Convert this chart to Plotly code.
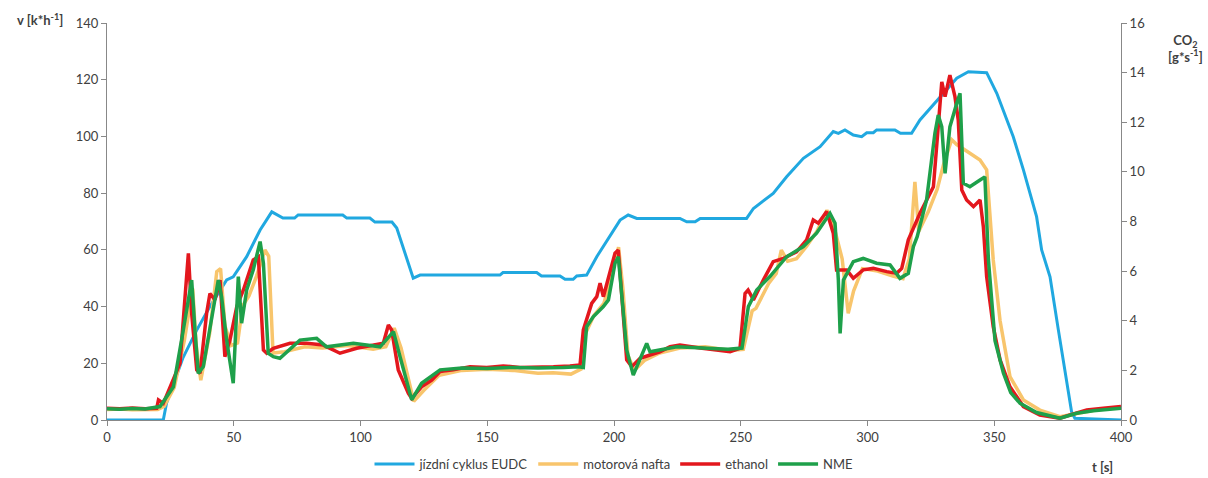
import plotly.graph_objects as go

# EUDC driving cycle: vehicle speed [km/h] over time [s]
t_eudc = [0, 22.2, 23.5, 30, 35.4, 40.6, 47.2, 49.8, 55.1, 60.4, 65, 69.4, 74, 75.4, 93, 94.6,
          103.7, 105.7, 112.4, 114.3, 120.8, 123.5, 155, 156.2, 169.5, 171.4, 178.7, 180.7,
          183.9, 185.3, 189.2, 193.2, 202.4, 205.6, 209, 226, 228.7, 232, 234, 252.3, 255,
          262.8, 268.1, 274.7, 281.3, 286.5, 288.5, 291.1, 294.4, 297.7, 299.7, 302.3, 303.6,
          310.8, 313, 317.4, 320.7, 324.7, 328.6, 335.2, 339.8, 347, 351, 357.5, 361.5, 366.7,
          368.7, 372, 375.3, 378.6, 380.5, 381.8, 400]
v_eudc = [0, 0, 6, 22, 31.7, 40, 49.4, 50.5, 57.6, 67, 73.4, 71.2, 71.2, 72.3, 72.3, 71.2,
          71.2, 69.8, 69.8, 67.7, 50, 51.1, 51.1, 52, 52, 50.8, 50.8, 49.6,
          49.6, 50.8, 51.1, 57.6, 70.5, 72.3, 71.1, 71.1, 69.9, 69.9, 71.1, 71.1, 74.6,
          79.9, 85.8, 92.3, 96.4, 101.7, 101.1, 102.3, 100.5, 99.9, 101.3, 101.3, 102.3,
          102.3, 101.1, 101.1, 105.8, 109.9, 114, 120.5, 122.8, 122.5, 115.2, 99.9, 88.2, 71.7,
          60, 50.5, 31.7, 12.9, 2.9, 0.6, 0]

# CO2 mass flow [g/s] - diesel
t_nafta = [0, 5, 10, 15, 20, 22.5, 26.5, 30.5, 33.8, 35.2, 37, 40.5, 43.3, 44.8, 46.5, 49,
           51.5, 53.5, 56, 59, 62.3, 63.8, 65.5, 70, 78, 85, 95, 105, 110, 113.3, 116, 121,
           125, 131, 140, 150, 160, 170, 176, 183, 187, 188.8, 192, 196, 199, 201.8, 203.5,
           205.5, 208, 212, 218, 226, 236, 246, 251, 254.5, 256, 261, 264, 266, 268.5, 272,
           276, 280, 284, 286.5, 287.8, 290, 292.4, 294.5, 298, 304, 310, 314, 316.5, 318.7,
           320.2, 324, 327.5, 330, 333.2, 335.2, 340.4, 344.4, 347, 349.6, 352.3, 356.2,
           361.5, 368, 375.9, 382, 390, 400]
co2_nafta = [0.42, 0.44, 0.41, 0.43, 0.42, 0.55, 1.3, 3.2, 5.3, 3.0, 1.6, 3.5, 5.98, 6.1, 3.8, 3.0,
             3.1, 4.6, 5.0, 5.8, 6.85, 6.6, 2.7, 2.75, 2.95, 2.9, 3.0, 2.85, 2.95, 3.7, 2.9, 0.75,
             1.2, 1.8, 2.0, 2.05, 2.0, 1.88, 1.9, 1.85, 2.05, 3.5, 4.2, 4.7, 5.8, 6.97, 5.3,
             2.6, 2.0, 2.4, 2.7, 2.9, 2.95, 2.8, 2.85, 4.4, 4.5, 5.5, 5.9, 6.85, 6.4, 6.5,
             7.0, 7.6, 8.45, 7.9, 7.39, 6.5, 4.3, 5.2, 6.1, 6.0, 5.8, 5.7, 6.5, 9.6,
             7.6, 8.4, 9.3, 10.3, 11.3, 11.1, 10.75, 10.48, 10.08, 6.45, 4.0, 1.75,
             0.81, 0.4, 0.13, 0.25, 0.4, 0.5]

# CO2 mass flow [g/s] - ethanol
t_ethanol = [0, 5, 10, 15, 19.6, 20.3, 22.2, 26.2, 28.8, 30.8, 32.1, 33.4, 35.4, 36.7, 39.3,
             40.6, 42.6, 44.6, 46.5, 48.5, 51.2, 53.8, 57.7, 59.7, 61.7, 63, 65.6, 72.2, 78.8,
             85.3, 91.9, 98.5, 105, 109, 111, 112.3, 114.9, 118.9, 120.2, 124.1, 128.1, 131.4,
             136.6, 143.2, 149.8, 156.3, 162.9, 169.5, 176.1, 182.6, 186.6, 187.9, 191.2,
             193.2, 194.5, 195.8, 198.4, 200.4, 201.7, 203, 205, 207, 210.3, 214.2, 218.1,
             222.1, 226, 234, 241.8, 245.8, 249.7, 251.7, 252.9, 255, 258.9, 262.8, 266.8,
             272, 276, 278.6, 280.6, 283.9, 286.5, 287.8, 291.8, 294.4, 298.3, 302.3, 307.6,
             311.5, 313.5, 316.1, 320.7, 324, 326, 327.9, 329.3, 330.6, 332.5, 334.5, 335.8,
             337.2, 339.1, 341.8, 344.4, 345.7, 347, 349.6, 352.3, 356.2, 361.5, 368, 375.9,
             379.9, 386.5, 393, 400]
co2_ethanol = [0.47, 0.45, 0.48, 0.45, 0.47, 0.81, 0.67, 1.61, 2.28, 4.97, 6.72, 4.3, 2.02, 1.88, 4.3,
               5.1, 4.84, 5.64, 2.55, 3.22, 4.57, 5.24, 6.45, 6.58, 2.82, 2.69, 2.89, 3.09, 3.09,
               3.02, 2.69, 2.89, 3.02, 3.09, 3.83, 3.63, 2.02, 1.07, 0.87, 1.34, 1.61, 1.95,
               2.02, 2.15, 2.12, 2.18, 2.12, 2.12, 2.15, 2.18, 2.22, 3.63, 4.7,
               4.97, 5.51, 4.97, 5.91, 6.72, 6.85, 4.97, 2.42, 2.15, 2.49, 2.62, 2.75,
               2.95, 3.02, 2.9, 2.82, 2.75, 2.89, 5.1, 5.24, 4.84, 5.64, 6.38, 6.51,
               6.78, 7.26, 8.06, 7.93, 8.4, 7.53, 6.05, 6.05, 5.71, 6.05, 6.11, 5.98,
               5.91, 6.11, 7.26, 8.33, 9.0, 9.4, 11.82, 13.63, 13.03, 13.9, 13.03, 12.09,
               9.27, 8.87, 8.6, 8.87, 7.79, 5.78, 3.76, 2.42, 1.34, 0.54, 0.2, 0.07,
               0.2, 0.4, 0.47, 0.54]

# CO2 mass flow [g/s] - NME (rapeseed methyl ester)
t_nme = [0, 5, 10, 15, 20.9, 26.2, 30.1, 33.4, 34.7, 36, 38, 40.6, 43.9, 45.2, 47.2, 49.8,
         51.8, 53.1, 55.1, 57.7, 60.4, 61.7, 63.6, 65.6, 68.2, 76.1, 82.7, 86.6, 97.2, 107.7,
         113, 115.6, 120.2, 124.1, 131.4, 140, 150, 160, 170, 180, 186, 187.9, 189.2, 191.8,
         195.8, 197.8, 200.4, 201.7, 203, 205, 207.6, 210.3, 212.9, 214.2, 218.1, 224.8, 235,
         245, 250.5, 253, 256.3, 261.5, 268.1, 274.7, 279.9, 285.2, 287.2, 288.5, 289.2,
         290.5, 294.4, 298.3, 303.6, 308.9, 312.8, 316.1, 318.1, 319.6, 323.3, 326.6, 327.9,
         329.3, 330.6, 332.5, 335.2, 336.5, 337.8, 340.4, 344.4, 346.3, 347.7, 350.3, 353.6,
         356.5, 360.2, 366.7, 375.9, 382.5, 389.1, 400]
co2_nme = [0.45, 0.43, 0.46, 0.44, 0.54, 1.34, 3.63, 5.64, 3.63, 1.88, 2.15, 3.63, 5.64, 4.97, 3.22, 1.48,
           5.78, 3.9, 5.24, 6.05, 7.19, 6.32, 2.69, 2.55, 2.49, 3.22, 3.29, 2.95, 3.09, 2.95,
           3.56, 2.55, 0.81, 1.48, 2.02, 2.1, 2.08, 2.12, 2.1, 2.12, 2.15, 2.12, 3.76, 4.16,
           4.57, 4.84, 6.32, 6.58, 4.97, 2.82, 1.81, 2.42, 3.09, 2.75, 2.82, 2.95, 2.9,
           2.85, 2.9, 4.57, 5.24, 5.78, 6.58, 6.99, 7.53, 8.33, 7.93, 5.64, 3.49,
           5.64, 6.38, 6.51, 6.32, 6.25, 5.71, 5.91, 6.99, 7.39, 8.87, 11.56, 12.29,
           11.82, 9.94, 11.82, 12.76, 13.17, 9.54, 9.4, 9.67, 9.8, 6.45, 3.2, 1.9,
           1.1, 0.67, 0.3, 0.07, 0.27, 0.37, 0.47]

x_ticks = [0, 50, 100, 150, 200, 250, 300, 350, 400]
v_ticks = [0, 20, 40, 60, 80, 100, 120, 140]
co2_ticks = [0, 2, 4, 6, 8, 10, 12, 14, 16]

FONT = "Lato, 'Open Sans', sans-serif"
TEXT = "#404040"
AXIS = "#888888"
FS = 13

fig = go.Figure()
fig.add_trace(go.Scatter(x=t_eudc, y=v_eudc, mode="lines", name="jízdní cyklus EUDC",
                         line=dict(color="#20A8E0", width=3)))
fig.add_trace(go.Scatter(x=t_nafta, y=co2_nafta, mode="lines", name="motorová nafta", yaxis="y2",
                         line=dict(color="#F8C56C", width=3.5)))
fig.add_trace(go.Scatter(x=t_ethanol, y=co2_ethanol, mode="lines", name="ethanol", yaxis="y2",
                         line=dict(color="#E3171D", width=3.5)))
fig.add_trace(go.Scatter(x=t_nme, y=co2_nme, mode="lines", name="NME", yaxis="y2",
                         line=dict(color="#1EA04A", width=3.5)))

axis_common = dict(showgrid=False, zeroline=False, showline=True, linecolor=AXIS, linewidth=1,
                   ticks="outside", ticklen=5, tickcolor=AXIS, automargin=False,
                   tickfont=dict(family=FONT, size=FS, color=TEXT))

fig.update_layout(
    width=1208, height=478,
    margin=dict(l=107, r=87, t=23, b=58, autoexpand=False),
    paper_bgcolor="white", plot_bgcolor="white",
    font=dict(family=FONT, size=FS, color=TEXT),
    xaxis=dict(range=[0, 400], tickvals=x_ticks, **axis_common),
    yaxis=dict(range=[0, 140], tickvals=v_ticks, **axis_common),
    yaxis2=dict(range=[0, 16], tickvals=co2_ticks, overlaying="y", side="right", **axis_common),
    showlegend=True,
    legend=dict(orientation="h", x=0.5, xanchor="center", xref="paper",
                y=0.029, yanchor="middle", yref="container",
                font=dict(family=FONT, size=FS, color=TEXT), itemwidth=40,
                traceorder="normal", bgcolor="rgba(0,0,0,0)"),
    annotations=[
        dict(text="<b>v [k*h<sup>-1</sup>]</b>", xref="paper", yref="paper",
             x=-0.041, y=1.008, xanchor="right", yanchor="middle", showarrow=False,
             font=dict(family=FONT, size=FS, color=TEXT)),
        dict(text="<b>CO<sub>2</sub><br>[g*s<sup>-1</sup>]</b>", xref="paper", yref="paper",
             x=1.064, y=0.935, xanchor="center", yanchor="middle", showarrow=False,
             font=dict(family=FONT, size=FS, color=TEXT)),
        dict(text="<b>t [s]</b>", xref="paper", yref="paper",
             x=0.982, y=-0.118, xanchor="center", yanchor="middle", showarrow=False,
             font=dict(family=FONT, size=FS, color=TEXT)),
    ],
)

fig.write_html("out.html")
